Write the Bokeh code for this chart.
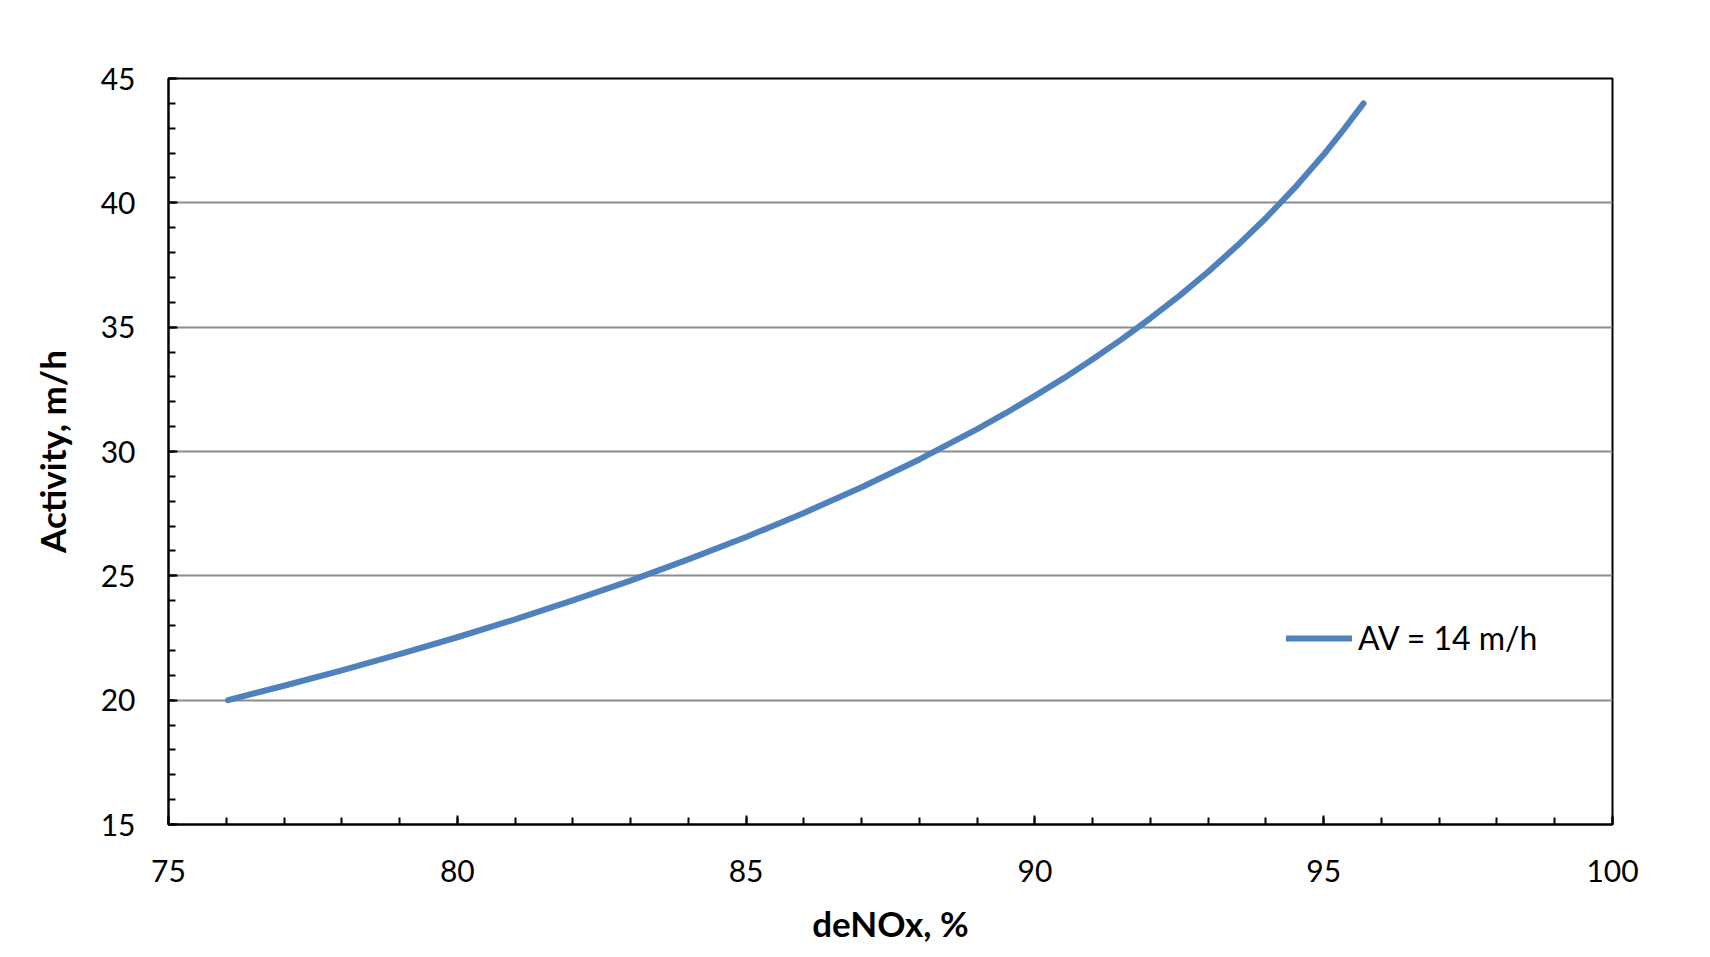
from bokeh.plotting import figure
from bokeh.models import Range1d, SingleIntervalTicker, Legend, LegendItem
from bokeh.embed import file_html
from bokeh.resources import INLINE

# Data
denox = [76.03, 77, 78, 79, 80, 81, 82, 83, 84, 85, 86, 87, 88, 89, 89.5, 90,
         90.5, 91, 91.5, 92, 92.5, 93, 93.5, 94, 94.5, 95, 95.3, 95.69]
activity = [20.0, 20.58, 21.20, 21.85, 22.53, 23.25, 24.01, 24.81, 25.66, 26.56,
            27.53, 28.56, 29.68, 30.90, 31.55, 32.24, 32.95, 33.71, 34.51, 35.36,
            36.26, 37.23, 38.27, 39.39, 40.61, 41.94, 42.81, 44.0]
series_name = "AV = 14 m/h"
x_label = "deNOx, %"
y_label = "Activity, m/h"

FONT = "Lato"

p = figure(width=1706, height=949, output_backend="svg", toolbar_location=None,
           x_range=Range1d(75, 100), y_range=Range1d(15, 45),
           min_border_left=168, min_border_right=94, min_border_top=78,
           min_border_bottom=125)
p.background_fill_color = "white"
p.border_fill_color = "white"
p.outline_line_color = "black"
p.outline_line_width = 2

r = p.line(denox, activity, line_color="#4F81BD", line_width=6,
           line_cap="round", line_join="round")

for ax in (p.xaxis[0], p.yaxis[0]):
    ax.axis_line_color = "black"
    ax.axis_line_width = 2
    ax.major_tick_line_color = "black"
    ax.major_tick_line_width = 2
    ax.minor_tick_line_color = "black"
    ax.minor_tick_line_width = 2
    ax.major_tick_out = 0
    ax.major_tick_in = 9
    ax.minor_tick_out = 0
    ax.minor_tick_in = 7
    ax.major_label_text_font = FONT
    ax.major_label_text_font_size = "30px"
    ax.major_label_text_color = "black"
    ax.axis_label_text_font = FONT
    ax.axis_label_text_font_size = "35px"
    ax.axis_label_text_font_style = "bold"
    ax.axis_label_text_color = "black"

p.xaxis.ticker = SingleIntervalTicker(interval=5, num_minor_ticks=5)
p.yaxis.ticker = SingleIntervalTicker(interval=5, num_minor_ticks=5)
p.xaxis.axis_label = x_label
p.yaxis.axis_label = y_label
p.xaxis.major_label_standoff = 35
p.yaxis.major_label_standoff = 33
p.xaxis.axis_label_standoff = 17
p.yaxis.axis_label_standoff = 25

p.xgrid.grid_line_color = None
p.ygrid.grid_line_color = "#8c8c8c"
p.ygrid.grid_line_width = 2

legend = Legend(items=[LegendItem(label=series_name, renderers=[r])],
                location=(1118, 167), padding=0, margin=0, spacing=0,
                glyph_width=66, glyph_height=30, label_standoff=6,
                label_text_font=FONT, label_text_font_size="32px",
                label_text_color="black",
                background_fill_alpha=0, border_line_color=None)
p.add_layout(legend, "center")

open("out.html", "w").write(file_html(p, INLINE))
